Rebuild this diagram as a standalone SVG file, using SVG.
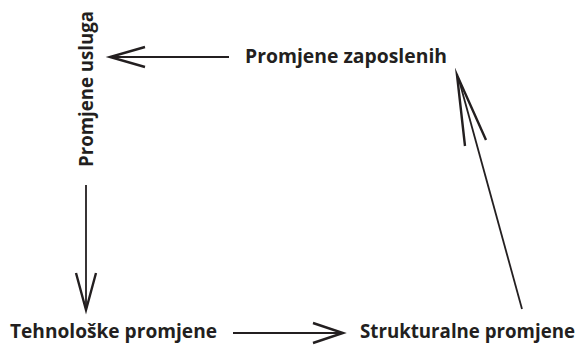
<svg xmlns="http://www.w3.org/2000/svg" width="584" height="347" viewBox="0 0 584 347">
<style>
.lbl{font-family:"Open Sans",Lato,"Liberation Sans",sans-serif;font-weight:bold;font-size:20px;fill:#231f20}
.ln{stroke:#231f20;stroke-width:1.8;fill:none}
.hd{stroke:#231f20;stroke-width:2.4;fill:none;stroke-linejoin:miter;stroke-miterlimit:12;stroke-linecap:butt}
</style>
<rect width="584" height="347" fill="#fff"/>
<g id="connectors">
<g id="e-zaposlenih-usluga">
<line class="ln" x1="229" y1="57" x2="112" y2="57"/>
<path class="hd" d="M145,47 L110,57 L145,67"/>
</g>
<g id="e-usluga-tehnoloske">
<line class="ln" x1="86" y1="185" x2="86" y2="307"/>
<path class="hd" d="M76,273 L86,310 L96,273"/>
</g>
<g id="e-tehnoloske-strukturalne">
<line class="ln" x1="233" y1="333" x2="340" y2="333"/>
<path class="hd" d="M313,323 L343,333 L313,343"/>
</g>
<g id="e-strukturalne-zaposlenih">
<line class="ln" x1="522" y1="309" x2="459" y2="80"/>
<path class="hd" d="M465,146 L457,75 L486,140"/>
</g>
</g>
<g id="n-zaposlenih"><text class="lbl" x="245" y="63" textLength="202" lengthAdjust="spacingAndGlyphs">Promjene zaposlenih</text></g>
<g id="n-usluga"><text class="lbl" transform="translate(93,167) rotate(-90)" x="0" y="0" textLength="156" lengthAdjust="spacingAndGlyphs">Promjene usluga</text></g>
<g id="n-tehnoloske"><text class="lbl" x="10" y="338" textLength="207" lengthAdjust="spacingAndGlyphs">Tehnološke promjene</text></g>
<g id="n-strukturalne"><text class="lbl" x="360" y="338" style="font-size:19px" textLength="215" lengthAdjust="spacingAndGlyphs">Strukturalne promjene</text></g>
</svg>
